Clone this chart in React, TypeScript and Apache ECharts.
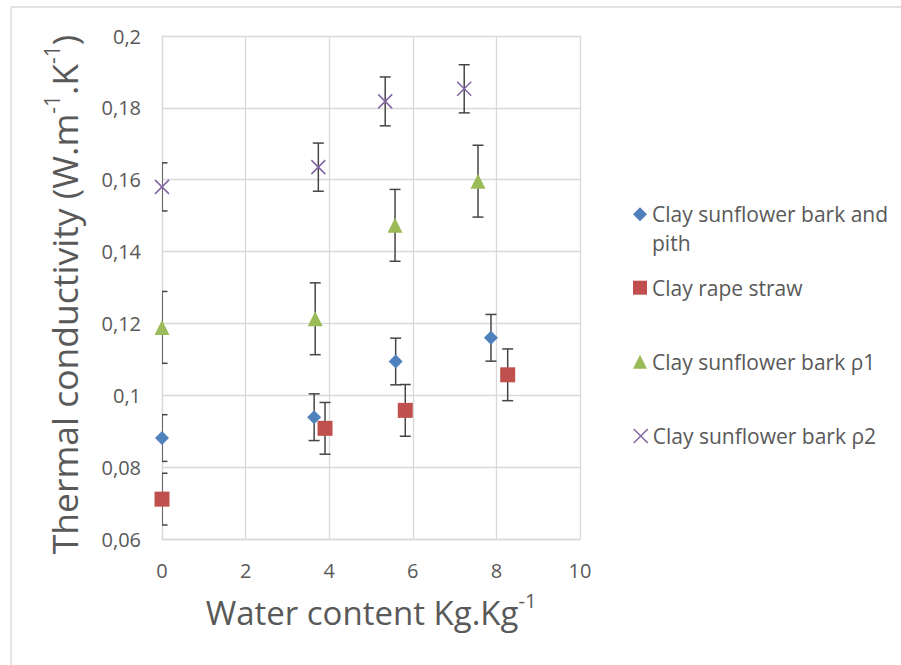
import React, { useEffect, useRef } from "react";
import * as echarts from "echarts";

const seriesNames = [
  "Clay sunflower bark and pith",
  "Clay rape straw",
  "Clay sunflower bark ρ1",
  "Clay sunflower bark ρ2",
];

const xBlue = [0, 3.64, 5.59, 7.87];
const yBlue = [0.0881, 0.0939, 0.1094, 0.116];
const eBlue = [0.0065, 0.0065, 0.0065, 0.0065];

const xRed = [0, 3.9, 5.82, 8.27];
const yRed = [0.0711, 0.0908, 0.0958, 0.1057];
const eRed = [0.0072, 0.0072, 0.0072, 0.0072];

const xGreen = [0, 3.665, 5.575, 7.56];
const yGreen = [0.1189, 0.1213, 0.1473, 0.1596];
const eGreen = [0.01, 0.01, 0.01, 0.01];

const xPurple = [0, 3.74, 5.34, 7.23];
const yPurple = [0.158, 0.1635, 0.1818, 0.1853];
const ePurple = [0.0067, 0.0067, 0.0068, 0.0067];

const colors = ["#4F81BD", "#C0504D", "#9BBB59", "#8064A2"];
const CROSS = "path://M0,0L10,10M10,0L0,10";

const FONT = "Open Sans";
const TXT = "#595959";
const GRID = "#D9D9D9";

function pairs(xs: number[], ys: number[]) {
  return xs.map((x, i) => [x, ys[i]]);
}
function triples(xs: number[], ys: number[], es: number[]) {
  return xs.map((x, i) => [x, ys[i], es[i]]);
}

function errorRender(params: any, api: any) {
  const x = api.value(0);
  const y = api.value(1);
  const e = api.value(2);
  const top = api.coord([x, y + e]);
  const bot = api.coord([x, y - e]);
  const cap = 5.5;
  const style = { stroke: "#454545", lineWidth: 1.5 };
  return {
    type: "group",
    children: [
      { type: "line", shape: { x1: top[0], y1: top[1], x2: bot[0], y2: bot[1] }, style },
      { type: "line", shape: { x1: top[0] - cap, y1: top[1], x2: top[0] + cap, y2: top[1] }, style },
      { type: "line", shape: { x1: bot[0] - cap, y1: bot[1], x2: bot[0] + cap, y2: bot[1] }, style },
    ],
  };
}

export default function App() {
  const ref = useRef<HTMLDivElement>(null);
  useEffect(() => {
    document.body.style.margin = "0";
    const chart = echarts.init(ref.current!, undefined, { renderer: "svg" });
    const legendTops = [203.8, 277.2, 351.2, 425.5];
    const legendIcons = ["diamond", "rect", "triangle", CROSS];
    const legendLabels = [
      "Clay sunflower bark and",
      seriesNames[1],
      seriesNames[2],
      seriesNames[3],
    ];
    const legends = seriesNames.map((n, i) => ({
      left: 633,
      top: legendTops[i],
      padding: 0,
      itemWidth: 14,
      itemHeight: 14,
      selectedMode: false,
      formatter: () => legendLabels[i],
      textStyle: { fontFamily: FONT, fontSize: 21, color: TXT },
      data: [
        {
          name: n,
          icon: legendIcons[i],
          itemStyle:
            i === 3
              ? { color: "transparent", borderColor: colors[3], borderWidth: 1.5 }
              : { color: colors[i], borderWidth: 0 },
        },
      ],
    }));

    const errSets = [
      triples(xBlue, yBlue, eBlue),
      triples(xRed, yRed, eRed),
      triples(xGreen, yGreen, eGreen),
      triples(xPurple, yPurple, ePurple),
    ];
    const ptSets = [
      pairs(xBlue, yBlue),
      pairs(xRed, yRed),
      pairs(xGreen, yGreen),
      pairs(xPurple, yPurple),
    ];
    const symbols = ["diamond", "rect", "triangle", CROSS];
    const sizes = [14, 15, 15, 14];

    const option: any = {
      animation: false,
      backgroundColor: "#fff",
      textStyle: { fontFamily: FONT },
      grid: { left: 162, top: 36, right: 321, bottom: 126 },
      legend: legends,
      graphic: [
        {
          type: "rect",
          shape: { x: 11, y: 7, width: 1000, height: 1000 },
          style: { fill: "none", stroke: GRID, lineWidth: 1.3 },
          silent: true,
        },
        {
          type: "text",
          left: 652,
          top: 232,
          style: { text: "pith", fontFamily: FONT, fontSize: 21, fill: TXT },
        },
      ],
      xAxis: {
        type: "value",
        min: 0,
        max: 10,
        interval: 2,
        axisLine: { show: true, lineStyle: { color: GRID, width: 1.3 } },
        axisTick: { show: false },
        splitLine: { show: true, lineStyle: { color: GRID, width: 1.3 } },
        axisLabel: { color: TXT, fontSize: 20, fontFamily: FONT, margin: 21 },
        name: "{a|Water content Kg.Kg}{s|-1}",
        nameLocation: "middle",
        nameGap: 51,
        nameTextStyle: {
          rich: {
            a: { fontSize: 33, fontFamily: FONT, color: TXT, lineHeight: 39, verticalAlign: "bottom" },
            s: { fontSize: 20, fontFamily: FONT, color: TXT, lineHeight: 39, verticalAlign: "top" },
          },
        },
      },
      yAxis: {
        type: "value",
        min: 0.06,
        max: 0.2,
        interval: 0.02,
        axisLine: { show: true, lineStyle: { color: GRID, width: 1.3 } },
        axisTick: { show: false },
        splitLine: { show: true, lineStyle: { color: GRID, width: 1.3 } },
        axisLabel: {
          color: TXT,
          fontSize: 20,
          fontFamily: FONT,
          margin: 21,
          formatter: (v: number) => String(+v.toFixed(2)).replace(".", ","),
        },
        name: "{a|Thermal conductivity (W.m}{s|-1}{a|.K}{s|-1}{a|)}",
        nameLocation: "middle",
        nameGap: 80,
        nameTextStyle: {
          padding: [0, 14, 0, 0],
          rich: {
            a: { fontSize: 35.5, fontFamily: FONT, color: TXT, lineHeight: 41, verticalAlign: "bottom" },
            s: { fontSize: 21, fontFamily: FONT, color: TXT, lineHeight: 41, verticalAlign: "top" },
          },
        },
      },
      series: [
        ...errSets.map((d, i) => ({
          type: "custom",
          name: "err" + i,
          data: d,
          encode: { x: 0, y: 1 },
          renderItem: errorRender,
          clip: true,
          z: 1,
          silent: true,
        })),
        ...ptSets.map((d, i) => ({
          type: "scatter",
          name: seriesNames[i],
          data: d,
          symbol: symbols[i],
          symbolSize: sizes[i],
          clip: false,
          z: 3,
          itemStyle:
            i === 3
              ? { color: "transparent", borderColor: colors[3], borderWidth: 1.5, opacity: 1 }
              : { color: colors[i], opacity: 1 },
        })),
      ],
    };
    chart.setOption(option);
    return () => chart.dispose();
  }, []);
  return (
    <div
      ref={ref}
      style={{ position: "fixed", left: 0, top: 0, width: 901, height: 665 }}
    />
  );
}
